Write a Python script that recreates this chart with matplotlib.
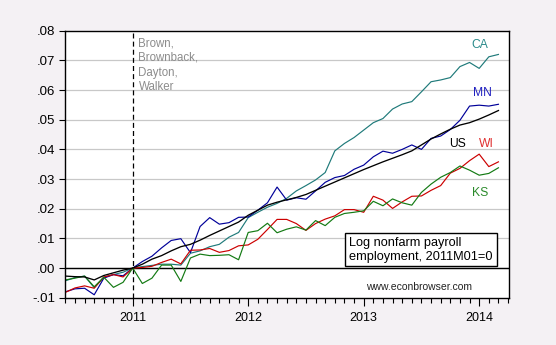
import numpy as np
import matplotlib
matplotlib.use("Agg")
import matplotlib.pyplot as plt
from matplotlib.ticker import FixedLocator, FuncFormatter

plt.rcParams['font.family'] = ['Liberation Sans', 'DejaVu Sans']

# meses desde 2011M01 (2010M06 .. 2014M03)
meses = list(range(-7, 39))

us = [-0.0027, -0.0029, -0.0030, -0.0040, -0.0025, -0.0016, -0.0007, 0.0,
      0.0013, 0.0030, 0.0042, 0.0058, 0.0072, 0.0080, 0.0094, 0.0110, 0.0125,
      0.0140, 0.0155, 0.0178, 0.0195, 0.0212, 0.0222, 0.0230, 0.0238, 0.0248,
      0.0262, 0.0276, 0.0290, 0.0304, 0.0318, 0.0332, 0.0345, 0.0358, 0.0370,
      0.0382, 0.0395, 0.0415, 0.0435, 0.0452, 0.0468, 0.0482, 0.0490, 0.0502,
      0.0516, 0.0531]
ca = [-0.0043, -0.0032, -0.0027, -0.0066, -0.0031, -0.0022, -0.0014, 0.0,
      0.0005, 0.0009, 0.0013, 0.0013, 0.0010, 0.0050, 0.0058, 0.0072, 0.0080,
      0.0104, 0.0120, 0.0170, 0.0188, 0.0205, 0.0218, 0.0235, 0.0260, 0.0278,
      0.0297, 0.0322, 0.0395, 0.0420, 0.0440, 0.0465, 0.0490, 0.0504, 0.0536,
      0.0553, 0.0561, 0.0594, 0.0628, 0.0634, 0.0642, 0.0679, 0.0693, 0.0673,
      0.0712, 0.0720]
mn = [-0.0080, -0.0070, -0.0068, -0.0090, -0.0034, -0.0022, -0.0026, 0.0,
      0.0022, 0.0040, 0.0068, 0.0093, 0.0099, 0.0052, 0.0140, 0.0170, 0.0148,
      0.0153, 0.0171, 0.0172, 0.0195, 0.0220, 0.0273, 0.0229, 0.0237, 0.0232,
      0.0260, 0.0289, 0.0305, 0.0312, 0.0333, 0.0347, 0.0375, 0.0394, 0.0387,
      0.0400, 0.0415, 0.0400, 0.0437, 0.0445, 0.0467, 0.0498, 0.0546, 0.0549,
      0.0546, 0.0552]
wi = [-0.0082, -0.0067, -0.0060, -0.0068, -0.0030, -0.0022, -0.0030, 0.0,
      0.0002, 0.0006, 0.0019, 0.0030, 0.0014, 0.0060, 0.0061, 0.0066, 0.0053,
      0.0059, 0.0075, 0.0078, 0.0097, 0.0130, 0.0164, 0.0164, 0.0150, 0.0127,
      0.0150, 0.0165, 0.0176, 0.0197, 0.0197, 0.0188, 0.0242, 0.0229, 0.0201,
      0.0223, 0.0242, 0.0243, 0.0262, 0.0278, 0.0320, 0.0336, 0.0362, 0.0384,
      0.0342, 0.0358]
ks = [-0.0040, -0.0034, -0.0027, -0.0063, -0.0031, -0.0065, -0.0048, 0.0,
      -0.0052, -0.0034, 0.0010, 0.0010, -0.0045, 0.0034, 0.0047, 0.0042, 0.0043,
      0.0045, 0.0028, 0.0120, 0.0126, 0.0151, 0.0119, 0.0131, 0.0139, 0.0128,
      0.0160, 0.0143, 0.0171, 0.0184, 0.0188, 0.0193, 0.0225, 0.0210, 0.0233,
      0.0220, 0.0212, 0.0255, 0.0283, 0.0306, 0.0322, 0.0344, 0.0330, 0.0313,
      0.0319, 0.0338]

anios = ['2011', '2012', '2013', '2014']
y_ticks = [-0.01, 0.0, 0.01, 0.02, 0.03, 0.04, 0.05, 0.06, 0.07, 0.08]

fig = plt.figure(figsize=(5.56, 3.45), dpi=100, facecolor='#f4f1f4')
ax = fig.add_axes([0.117, 0.137, 0.7985, 0.774])

for y in y_ticks[1:-1]:
    ax.axhline(y, color='#c8c8c8', lw=0.9, zorder=0)
ax.axhline(0, color='black', lw=1.0, zorder=1)
ax.axvline(0, color='black', lw=0.9, ls=(0, (4, 2.5)), zorder=1)

ax.plot(meses, ca, color='#1f7a7a', lw=0.85)
ax.plot(meses, mn, color='#000099', lw=0.85)
ax.plot(meses, wi, color='#cc0000', lw=0.85)
ax.plot(meses, ks, color='#137a13', lw=0.85)
ax.plot(meses, us, color='black', lw=0.95)

ax.set_xlim(-7.03, 39.1)
ax.set_ylim(-0.01, 0.08)

ax.xaxis.set_major_locator(FixedLocator([0, 12, 24, 36]))
ax.set_xticklabels(anios)
ax.xaxis.set_minor_locator(FixedLocator(range(-7, 40)))
ax.tick_params(axis='x', which='major', length=6, width=0.8, labelsize=9, pad=4)
ax.tick_params(axis='x', which='minor', length=3.5, width=0.8)
ax.set_yticks(y_ticks)
ax.yaxis.set_major_formatter(FuncFormatter(lambda v, p: ('%.2f' % v).replace('0.', '.')))
ax.tick_params(axis='y', length=4, width=0.8, labelsize=9.5, pad=3)
for s in ax.spines.values():
    s.set_linewidth(1.0)

ax.text(0.6, 0.0778, 'Brown,\nBrownback,\nDayton,\nWalker', color='#8c8c8c',
        fontsize=8.3, va='top', ha='left', linespacing=1.3)

ax.text(36.1, 0.0752, 'CA', color='#2a8a8a', fontsize=8.7, ha='center', va='center')
ax.text(36.3, 0.0589, 'MN', color='#2020c0', fontsize=8.7, ha='center', va='center')
ax.text(33.7, 0.0418, 'US', color='black', fontsize=8.7, ha='center', va='center')
ax.text(36.8, 0.0418, 'WI', color='#e03030', fontsize=8.7, ha='center', va='center')
ax.text(36.1, 0.0254, 'KS', color='#2a8a2a', fontsize=8.7, ha='center', va='center')

ax.text(22.5, 0.0062, 'Log nonfarm payroll\nemployment, 2011M01=0', fontsize=9.2,
        ha='left', va='center', linespacing=1.2,
        bbox=dict(boxstyle='square,pad=0.3', fc='white', ec='black', lw=1.0))
ax.text(29.7, -0.0064, 'www.econbrowser.com', fontsize=7.5, color='#222222',
        ha='center', va='center')

fig.savefig('out.png', dpi=100, facecolor=fig.get_facecolor())
